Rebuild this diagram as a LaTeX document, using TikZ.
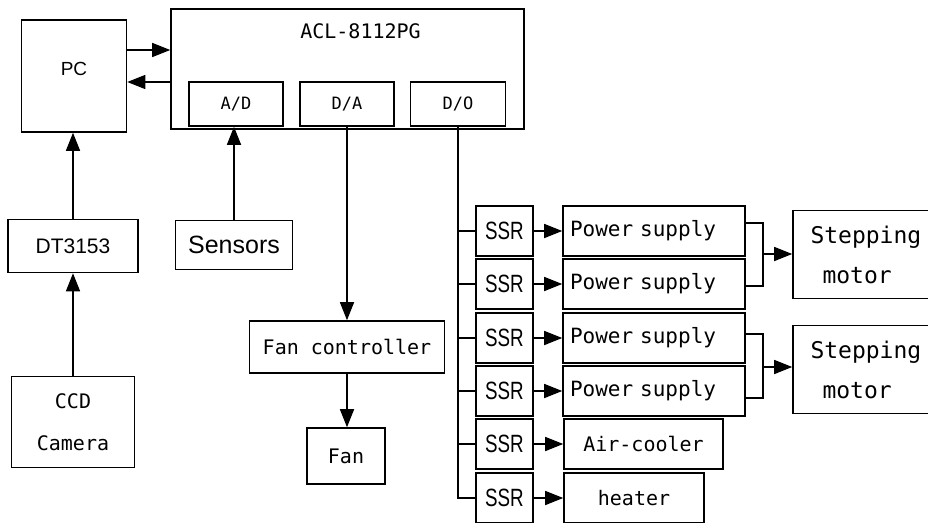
\documentclass[tikz,border=0pt]{standalone}
\usepackage{fontspec}
\setmainfont{Liberation Sans}
\setmonofont{DejaVu Sans Mono}
\newfontfamily\ssrfont[FakeStretch=0.75]{Liberation Sans}
\usetikzlibrary{arrows.meta,positioning,calc}

\begin{document}
\begin{tikzpicture}[x=1pt, y=-1pt,
  every node/.style={font=\ttfamily\fontsize{20}{24}\selectfont},
  box/.style={rectangle, draw=black, line width=1.6pt, inner sep=0pt, align=center},
  sub/.style={box, minimum width=94pt, minimum height=44pt,
              font=\ttfamily\fontsize{17}{20}\selectfont},
  ssr/.style={box, minimum width=57pt, minimum height=50pt,
              font=\ssrfont\fontsize{25}{30}\selectfont},
  psu/.style={box, minimum height=50pt, text width=168pt, inner xsep=7pt, align=left,
              font=\ttfamily\fontsize{21}{25}\selectfont},
  stm/.style={box, minimum height=88pt, text width=112pt, inner xsep=17.5pt, align=left,
              font=\ttfamily\fontsize{23}{27}\selectfont},
  arr/.style={-{Triangle[length=18pt,width=14pt]}, line width=1.6pt},
  wire/.style={line width=1.6pt},
]
\useasboundingbox (0,0) rectangle (928,522);

%% ─ Computer and image grabber ───────────────────────────────────────────────
\node[box, minimum width=105pt, minimum height=112pt, font=\fontsize{19}{23}\selectfont]
     (pc)  at (74, 76)  {\raisebox{15pt}{PC}};
\node[box, minimum width=130pt, minimum height=53pt, font=\fontsize{21}{25}\selectfont]
     (dt)  at (73, 246) {DT3153};
\node[box, minimum width=123pt, minimum height=91pt]
     (ccd) at (73, 422) {CCD\\[18pt]Camera};

%% ─ Data acquisition card ────────────────────────────────────────────────────
\node[box, minimum width=353pt, minimum height=120pt] (acl) at (347.5, 69) {};
\node (acltitle) at (360.5, 31) {ACL-8112PG};
\node[sub]                    (ad) at (236, 104) {A/D};
\node[sub]                    (da) at (347, 104) {D/A};
\node[sub, minimum width=95pt] (do) at (458, 104) {D/O};

\node[box, minimum width=117pt, minimum height=49pt, font=\fontsize{25}{30}\selectfont]
     (sen) at (234, 245) {Sensors};

%% ─ Fan branch ───────────────────────────────────────────────────────────────
\node[box, minimum width=195pt, minimum height=52pt] (fc)  at (347, 347) {Fan controller};
\node[box, minimum width=78pt,  minimum height=56pt] (fan) at (346, 456) {Fan};

%% ─ Relays ───────────────────────────────────────────────────────────────────
\node[ssr] (ssr1) at (504.5, 231) {SSR};
\node[ssr] (ssr2) at (504.5, 284) {SSR};
\node[ssr] (ssr3) at (504.5, 338) {SSR};
\node[ssr] (ssr4) at (504.5, 391) {SSR};
\node[ssr] (ssr5) at (504.5, 444) {SSR};
\node[ssr] (ssr6) at (504.5, 498) {SSR};

%% ─ Loads ────────────────────────────────────────────────────────────────────
\node[psu] (ps1) at (654, 231) {Power supply};
\node[psu] (ps2) at (654, 284) {Power supply};
\node[psu] (ps3) at (654, 338) {Power supply};
\node[psu] (ps4) at (654, 391) {Power supply};
\node[box, minimum width=159pt, minimum height=50pt] (air)  at (643.5, 444) {Air-cooler};
\node[box, minimum width=140pt, minimum height=50pt] (heat) at (634,   498) {heater};

\node[stm] (sm1) at (866.5, 254.5) {Stepping\\[13pt]\hspace*{12pt}motor};
\node[stm] (sm2) at (866.5, 369.5) {Stepping\\[13pt]\hspace*{12pt}motor};

%% ─ Arrows: computer side ────────────────────────────────────────────────────
\coordinate (pcout) at ([yshift=26pt]pc.east);
\coordinate (pcin)  at ([yshift=-6pt]pc.east);
\draw[arr] (pcout) -- (pcout -| acl.west);
\draw[arr] (pcin -| acl.west) -- (pcin);
\draw[arr] (dt.north)  -- (dt.north |- pc.south);
\draw[arr] (ccd.north) -- (ccd.north |- dt.south);
\draw[arr] (sen.north) -- (sen.north |- ad.south);

%% ─ Arrows: fan ──────────────────────────────────────────────────────────────
\draw[arr] (da.south) -- (da.south |- fc.north);
\draw[arr] (fc.south) -- (fc.south |- fan.north);

%% ─ Digital output bus ───────────────────────────────────────────────────────
\draw[wire] (do.south) |- (ssr6.west);
\draw[wire] (do.south |- ssr1.west) -- (ssr1.west);
\draw[wire] (do.south |- ssr2.west) -- (ssr2.west);
\draw[wire] (do.south |- ssr3.west) -- (ssr3.west);
\draw[wire] (do.south |- ssr4.west) -- (ssr4.west);
\draw[wire] (do.south |- ssr5.west) -- (ssr5.west);

%% ─ Arrows: relays to loads ──────────────────────────────────────────────────
\draw[arr] (ssr1.east) -- (ssr1.east -| ps1.west);
\draw[arr] (ssr2.east) -- (ssr2.east -| ps2.west);
\draw[arr] (ssr3.east) -- (ssr3.east -| ps3.west);
\draw[arr] (ssr4.east) -- (ssr4.east -| ps4.west);
\draw[arr] (ssr5.east) -- (ssr5.east -| air.west);
\draw[arr] (ssr6.east) -- (ssr6.east -| heat.west);

%% ─ Supplies to motors ───────────────────────────────────────────────────────
\coordinate (j1) at (763, 254);
\coordinate (j2) at (763, 367);
\draw[wire] ([yshift=8pt]ps1.east) -| (j1) |- ([yshift=-2pt]ps2.east);
\draw[wire] ([yshift=4pt]ps3.east) -| (j2) |- ([yshift=-7pt]ps4.east);
\draw[arr]  (j1) -- (j1 -| sm1.west);
\draw[arr]  (j2) -- (j2 -| sm2.west);

\end{tikzpicture}
\end{document}
